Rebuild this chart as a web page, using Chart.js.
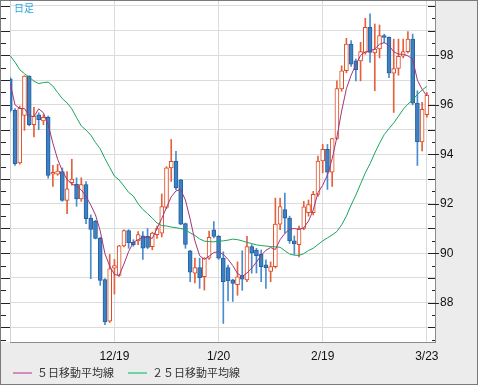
<!DOCTYPE html>
<html>
<head>
<meta charset="utf-8">
<script src="https://cdn.jsdelivr.net/npm/chart.js@4.4.1/dist/chart.umd.min.js"></script>
<style>
  html, body { margin: 0; padding: 0; background: #fff; }
</style>
</head>
<body>
<canvas id="candle_chart" width="478" height="385"></canvas>
<script>
// daily bars, 2014/11/19 - 2015/3/23 (weekdays)
const dates = ['11/19','11/20','11/21','11/24','11/25','11/26','11/27','11/28',
  '12/1','12/2','12/3','12/4','12/5','12/8','12/9','12/10','12/11','12/12','12/15','12/16','12/17','12/18','12/19',
  '12/22','12/23','12/24','12/25','12/26','12/29','12/30','12/31',
  '1/1','1/2','1/5','1/6','1/7','1/8','1/9','1/12','1/13','1/14','1/15','1/16','1/19','1/20',
  '1/21','1/22','1/23','1/26','1/27','1/28','1/29','1/30',
  '2/2','2/3','2/4','2/5','2/6','2/9','2/10','2/11','2/12','2/13','2/16','2/17','2/18','2/19',
  '2/20','2/23','2/24','2/25','2/26','2/27',
  '3/2','3/3','3/4','3/5','3/6','3/9','3/10','3/11','3/12','3/13','3/16','3/17','3/18','3/19','3/20','3/23'];

const tickDates = ['12/19', '1/20', '2/19', '3/23'];

const open = [97.05,95.78,93.65,95.57,97.16,95.2,95.6,95.35,95.5,93.2,
  93.2,93.3,92.14,92.85,92.8,92.2,92.78,91.42,91.3,90.6,
  88.93,87.25,89.4,89.1,90.3,90.92,90.45,90.5,90.7,90.68,
  90.27,90.75,90.81,91.85,93.45,93.72,92.97,91.2,90.1,89.19,
  89.42,89.05,89.8,90.95,90.68,89.8,89.42,88.92,88.73,89.1,
  88.92,90.27,90.13,89.96,89.53,89.26,89.46,91.18,91.76,91.42,
  90.5,90.35,91.0,91.64,91.64,92.38,93.73,94.2,93.28,94.64,
  96.64,97.38,98.46,97.78,97.78,98.12,99.14,98.1,98.26,98.8,
  98.73,97.28,97.47,97.97,98.15,98.66,96.07,94.5,95.6];

const high = [97.1,95.85,95.95,97.18,97.18,95.9,95.68,95.6,95.55,93.55,
  93.6,93.45,93.3,93.8,93.05,93.05,92.9,91.55,91.33,90.65,
  88.97,89.95,89.75,90.32,90.95,90.95,90.55,90.88,90.88,91.0,
  90.85,91.1,92.4,93.5,94.6,94.12,92.99,91.22,90.12,89.8,
  89.8,89.82,90.9,91.28,90.72,90.06,89.52,88.95,89.65,90.1,
  90.68,90.35,90.2,90.13,89.73,89.65,92.23,92.23,92.43,91.5,
  90.7,91.1,92.1,92.15,92.5,93.93,94.4,94.4,94.64,96.97,
  97.58,98.69,98.6,97.85,98.53,99.5,99.68,99.27,99.23,98.86,
  98.75,98.66,98.66,98.66,98.96,98.86,96.57,96.1,96.5];

const low = [95.7,93.55,93.6,94.97,95.15,94.7,95.0,95.2,93.04,92.7,
  93.15,92.1,91.6,92.75,91.9,92.1,91.2,88.97,90.58,88.7,
  87.11,87.2,88.35,89.06,90.25,90.2,90.28,90.35,89.75,90.18,
  90.14,90.6,90.66,91.8,92.9,92.57,91.15,90.2,88.85,88.8,
  88.58,88.51,89.75,90.62,89.75,87.16,88.07,88.05,88.3,88.5,
  88.85,89.19,89.2,88.85,88.58,88.85,89.4,90.95,90.81,90.4,
  89.95,89.85,90.95,91.5,91.55,92.3,93.25,92.58,92.7,94.6,
  96.55,97.3,97.55,96.97,96.97,98.05,97.72,96.57,97.9,98.5,
  97.1,95.69,97.2,97.9,98.1,96.0,93.55,94.14,95.5];

const close = [95.78,93.62,95.87,97.16,95.2,95.55,95.4,95.5,93.15,93.27,
  93.32,92.14,92.6,93.0,92.2,92.78,91.4,90.96,90.6,88.9,
  87.22,89.37,89.5,90.3,90.92,90.43,90.35,90.75,90.2,90.23,
  90.81,91.0,91.89,93.45,93.72,92.64,91.18,90.36,89.23,89.42,
  89.01,89.8,90.64,90.68,89.8,88.85,88.88,88.78,89.05,88.95,
  90.27,90.0,89.9,89.46,89.42,89.46,91.18,91.89,91.42,90.5,
  90.38,91.0,91.88,91.97,92.38,93.73,94.2,93.28,94.64,96.66,
  97.38,98.46,97.65,97.42,98.15,99.14,98.12,98.26,98.8,98.73,
  97.28,97.47,97.96,98.15,98.66,96.07,94.5,95.82,96.4];

const ma5 = [96.85,96.0,95.85,95.85,95.56,95.52,95.84,95.68,95.2,94.45,
  93.8,93.33,92.98,92.8,92.72,92.56,92.3,91.95,91.55,90.9,
  89.98,89.48,89.14,89.1,89.56,90.07,90.44,90.55,90.63,90.64,
  90.6,91.0,91.4,91.85,92.28,92.52,92.57,92.15,91.38,90.5,
  89.9,89.75,89.88,90.03,90.06,89.95,89.75,89.5,89.18,89.06,
  89.2,89.4,89.64,89.92,90.12,90.23,90.15,90.55,90.8,90.97,
  91.0,90.96,91.03,91.3,91.75,92.45,92.75,93.16,93.82,94.7,
  95.75,96.65,97.2,97.62,98.0,98.14,98.18,98.26,98.45,98.52,
  98.4,98.15,98.05,98.05,97.98,97.85,97.0,96.63,96.36];

const ma25 = [97.98,97.73,97.42,97.26,97.12,96.96,96.86,96.9,96.92,96.76,
  96.5,96.25,96.08,95.84,95.48,95.15,94.98,94.78,94.48,94.22,
  93.83,93.47,93.12,92.96,92.72,92.46,92.31,92.0,91.77,91.6,
  91.42,91.22,91.12,91.1,91.06,91.03,91.0,90.95,90.82,90.72,
  90.58,90.49,90.47,90.46,90.49,90.5,90.53,90.57,90.55,90.5,
  90.44,90.39,90.34,90.31,90.29,90.27,90.26,90.24,90.1,89.97,
  89.92,89.91,89.98,90.11,90.2,90.35,90.5,90.62,90.74,90.88,
  91.15,91.5,91.95,92.35,92.8,93.25,93.62,94.05,94.45,94.8,
  95.04,95.27,95.54,95.82,96.03,96.2,96.42,96.6,96.75];

const yTickValues = [86.5,87,87.5,88,88.5,89,89.5,90,90.5,91,91.5,92,92.5,93,93.5,
  94,94.5,95,95.5,96,96.5,97,97.5,98,98.5,99,99.5,100];

const UP_LINE = '#e2481e';
const DOWN_FILL = '#3d80c3';
const DOWN_LINE = '#25619f';
const LABEL_FONT = { family: 'Liberation Sans', size: 12 };

const isUp = (i) => close[i] >= open[i];

// background, frame, axis tick marks, "日足" and legend
const frame_plugin = {
  id: 'frame',
  beforeDraw(chart) {
    const { ctx, chartArea } = chart;
    ctx.save();
    ctx.fillStyle = '#ececec';
    ctx.fillRect(0, 0, chart.width, chart.height);
    ctx.fillStyle = '#ffffff';
    ctx.fillRect(1, 1, chartArea.right - 1, chartArea.bottom - 1);
    ctx.strokeStyle = '#d2d2d2';
    ctx.lineWidth = 1;
    ctx.beginPath();
    ctx.moveTo(chartArea.left + 0.5, 1);
    ctx.lineTo(chartArea.left + 0.5, chartArea.bottom);
    ctx.stroke();
    ctx.restore();
  },
  afterDraw(chart) {
    const { ctx, chartArea } = chart;
    const y = chart.scales.y;
    ctx.save();
    ctx.lineWidth = 1;
    ctx.strokeStyle = '#222';
    ctx.beginPath();
    yTickValues.forEach((v) => {
      const p = Math.round(y.getPixelForValue(v)) + 0.5;
      const major = Number.isInteger(v);
      ctx.moveTo(0, p);
      ctx.lineTo(major ? chartArea.left : chartArea.left - 4, p);
      ctx.moveTo(chartArea.right - (major ? 7 : 3), p);
      ctx.lineTo(chartArea.right + (major && v % 2 === 0 && v < 100 ? 4 : 0), p);
    });
    ctx.stroke();

    ctx.fillStyle = '#27a6e3';
    ctx.font = '10px "Noto Sans CJK JP"';
    ctx.textBaseline = 'top';
    ctx.fillText('日足', 14, 3);

    // legend
    const items = [
      { text: '５日移動平均線', color: '#d48cbb', x: 13 },
      { text: '２５日移動平均線', color: '#6fd3a6', x: 128 },
    ];
    const ly = chartArea.bottom + 31;
    ctx.font = '11px "Noto Sans CJK JP"';
    ctx.textBaseline = 'middle';
    items.forEach((it) => {
      ctx.strokeStyle = it.color;
      ctx.lineWidth = 2;
      ctx.beginPath();
      ctx.moveTo(it.x, ly);
      ctx.lineTo(it.x + 19, ly);
      ctx.stroke();
      ctx.fillStyle = '#333';
      ctx.fillText(it.text, it.x + 24, ly);
    });

    ctx.strokeStyle = '#7a7a7a';
    ctx.lineWidth = 1;
    ctx.strokeRect(0.5, 0.5, chart.width - 1, chart.height - 1);
    ctx.restore();
  }
};

const candle_canvas = document.querySelector('#candle_chart');

const candle_chart = new Chart(
  candle_canvas,
  {
    type: 'bar',
    data: {
      datasets: [
        {
          type: 'line',
          label: '５日移動平均線',
          data: ma5.map((v, i) => ({ x: i, y: v })),
          borderColor: '#a2367a',
          borderWidth: 1,
          pointRadius: 0,
          tension: 0,
          order: 0
        },
        {
          type: 'line',
          label: '２５日移動平均線',
          data: ma25.map((v, i) => ({ x: i, y: v })),
          borderColor: '#1ba65d',
          borderWidth: 1,
          pointRadius: 0,
          tension: 0,
          order: 0
        },
        {
          label: 'body',
          data: open.map((v, i) => ({ x: i, y: [v, close[i]] })),
          backgroundColor: (c) => isUp(c.dataIndex) ? '#ffffff' : DOWN_FILL,
          borderColor: (c) => isUp(c.dataIndex) ? UP_LINE : DOWN_LINE,
          borderWidth: 1,
          borderSkipped: false,
          barThickness: 4,
          grouped: false,
          order: 1
        },
        {
          label: 'wick',
          data: low.map((v, i) => ({ x: i, y: [v, high[i]] })),
          backgroundColor: (c) => isUp(c.dataIndex) ? '#e5603c' : '#4a8dcf',
          borderWidth: 0,
          barThickness: 1,
          grouped: false,
          order: 2
        }
      ]
    },
    options: {
      responsive: false,
      devicePixelRatio: 1,
      animation: false,
      layout: { padding: { left: 10, top: 1, right: 0, bottom: 0 } },
      scales: {
        x: {
          type: 'linear',
          position: 'bottom',
          min: -0.06,
          max: 89.72,
          offset: false,
          afterBuildTicks: (s) => { s.ticks = tickDates.map((d) => ({ value: dates.indexOf(d) })); },
          afterFit: (s) => { s.height = 43; s.paddingLeft = 0; s.paddingRight = 0; },
          grid: { color: '#dcdcdc', drawTicks: false, offset: false },
          border: { color: '#8c8c8c' },
          ticks: {
            autoSkip: false,
            maxRotation: 0,
            padding: 7,
            color: '#111',
            font: LABEL_FONT,
            callback: (v) => dates[v]
          }
        },
        y: {
          type: 'linear',
          position: 'right',
          min: 86.41,
          max: 100.2,
          beginAtZero: false,
          afterBuildTicks: (s) => { s.ticks = yTickValues.map((v) => ({ value: v })); },
          afterFit: (s) => { s.width = 43; s.paddingTop = 0; s.paddingBottom = 0; },
          grid: {
            color: (c) => (c.tick && Number.isInteger(c.tick.value)) ? '#dcdcdc' : 'rgba(0,0,0,0)',
            drawTicks: false
          },
          border: { color: '#8c8c8c' },
          ticks: {
            autoSkip: false,
            padding: 5,
            color: '#111',
            font: LABEL_FONT,
            callback: (v) => (v % 2 === 0 && v < 100) ? String(v) : ''
          }
        }
      },
      plugins: {
        legend: { display: false },
        tooltip: { enabled: false }
      }
    },
    plugins: [frame_plugin]
  }
);
</script>
</body>
</html>
